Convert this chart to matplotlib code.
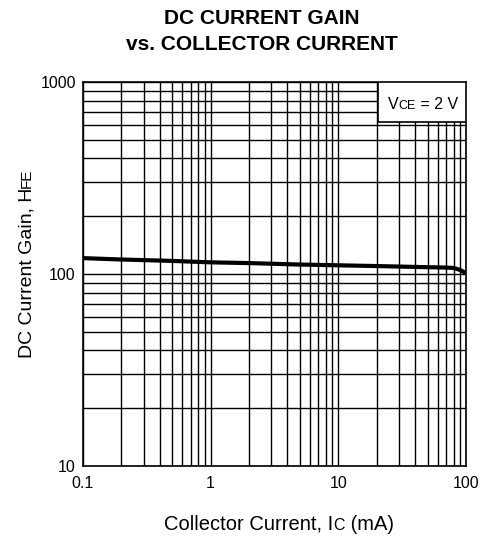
import matplotlib.pyplot as plt
from matplotlib.ticker import FixedLocator, NullFormatter

plt.rcParams['font.family'] = ['Liberation Sans', 'DejaVu Sans']

# collector current (mA) and DC current gain
ic_ma = [0.1, 0.2, 0.5, 1, 2, 5, 10, 20, 50, 70, 80, 90, 100]
hfe = [121, 119, 117, 115, 114, 112, 111, 110, 108.5, 108, 107.5, 105, 101]

x_ticks = [0.1, 1, 10, 100]
x_labels = ['0.1', '1', '10', '100']
y_ticks = [10, 100, 1000]
y_labels = ['10', '100', '1000']

fig = plt.figure(figsize=(4.9, 5.36), dpi=100)
ax = fig.add_axes([0.169, 0.1306, 0.782, 0.7164])

ax.plot(ic_ma, hfe, color='black', lw=3, solid_capstyle='butt', zorder=3)

ax.set_xscale('log')
ax.set_yscale('log')
ax.set_xlim(0.1, 100)
ax.set_ylim(10, 1000)

ax.xaxis.set_major_locator(FixedLocator(x_ticks))
ax.yaxis.set_major_locator(FixedLocator(y_ticks))
ax.set_xticklabels(x_labels)
ax.set_yticklabels(y_labels)
ax.xaxis.set_minor_formatter(NullFormatter())
ax.yaxis.set_minor_formatter(NullFormatter())
ax.tick_params(which='both', length=0, labelsize=11.5, pad=5)
ax.tick_params(axis='x', pad=7)

ax.grid(which='both', color='black', lw=1)
ax.set_axisbelow(True)
for s in ax.spines.values():
    s.set_linewidth(1.2)

renderer = fig.canvas.get_renderer()


def baseline_text(pieces, x, y, vertical=False, center=True, zorder=5):
    # lay out (text, size) pieces on one baseline, in pixels
    arts = []
    for s, size in pieces:
        t = fig.text(0, 0, s, fontsize=size, va='baseline', ha='left',
                     rotation=90 if vertical else 0, rotation_mode='anchor',
                     transform=None, zorder=zorder)
        arts.append(t)
    widths = []
    for t in arts:
        bb = t.get_window_extent(renderer)
        widths.append(bb.height if vertical else bb.width)
    pos = -sum(widths) / 2 if center else 0
    for t, w in zip(arts, widths):
        t.set_position((x, y + pos) if vertical else (x + pos, y))
        pos += w
    return arts


H = 536
# condition box in the top right corner
ax.add_patch(plt.Rectangle((0.77, 0.895), 0.229, 0.104, transform=ax.transAxes,
                           facecolor='white', edgecolor='black', lw=1.2, zorder=4))
baseline_text([('V', 11.5), ('CE', 9), (' = 2 V', 11.5)], 388, H - 109,
              center=False)

baseline_text([('Collector Current, I', 14.5), ('C', 11.5), (' (mA)', 14.5)],
              279, H - 530)
baseline_text([('DC Current Gain, H', 14), ('FE', 11)], 31, H - 263,
              vertical=True)

fig.text(262 / 490, 1 - 31.5 / 536, 'DC CURRENT GAIN\nvs. COLLECTOR CURRENT',
         ha='center', va='center', fontsize=15, fontweight='bold',
         linespacing=1.4)

fig.savefig('out.png', dpi=100, facecolor='white')
